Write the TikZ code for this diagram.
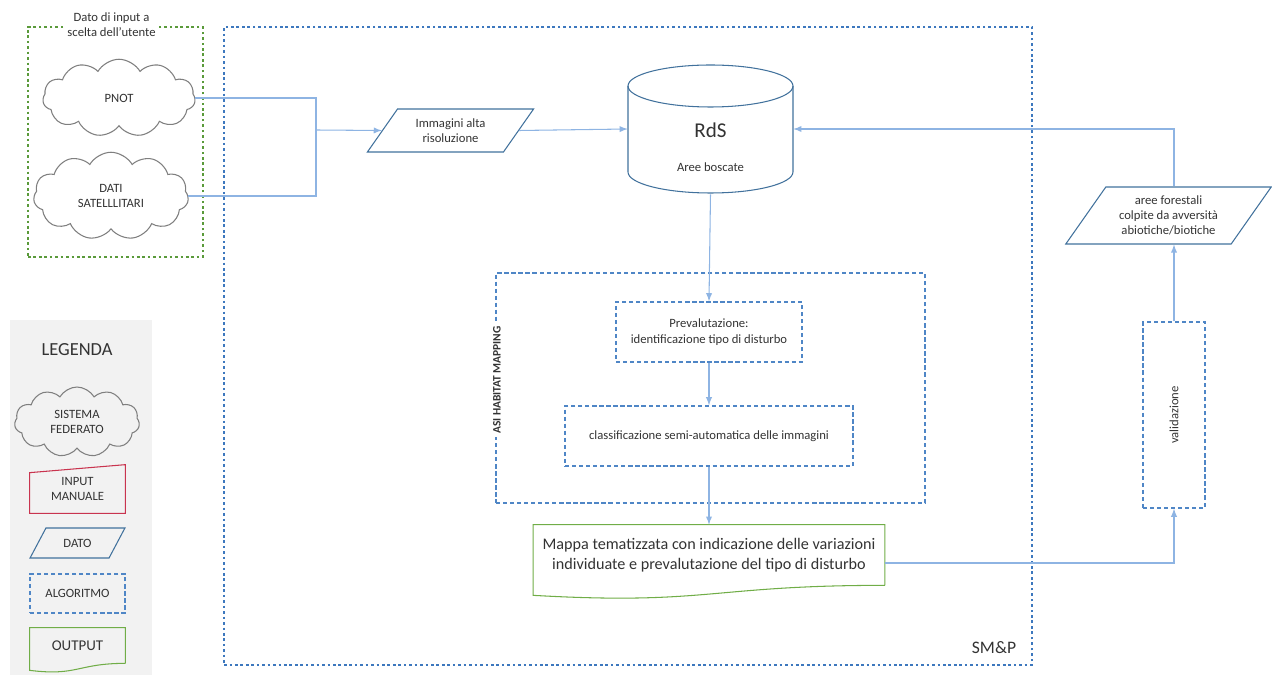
\documentclass[tikz,border=0pt]{standalone}
\usepackage{fontspec}
\setmainfont{Carlito}
\usepackage{tikz}
\usetikzlibrary{shapes,positioning}
\usetikzlibrary{arrows}

\definecolor{lineblue}{HTML}{8EB4E3}
\definecolor{edgeblue}{HTML}{41719C}
\definecolor{dashblue}{HTML}{4F86C6}
\definecolor{dotblue}{HTML}{3D78BE}
\definecolor{dotgreen}{HTML}{5A9A3A}
\definecolor{outgreen}{HTML}{70AD47}
\definecolor{inred}{HTML}{C9344F}
\definecolor{cloudgrey}{HTML}{7F7F7F}
\definecolor{leggrey}{HTML}{F2F2F2}
\definecolor{txt}{HTML}{333333}

\begin{document}
\begin{tikzpicture}[x=0.02cm, y=-0.02cm, text=txt, font=\fontsize{7.2}{8.7}\selectfont]
      \tikzstyle{cnode} = [draw=cloudgrey, semithick, cloud, cloud puffs=11, cloud puff arc=120, cloud ignores aspect, align=center]
      \tikzstyle{dnode} = [draw=edgeblue, semithick, trapezium, trapezium stretches=true, trapezium left angle=53, trapezium right angle=127, inner sep=1pt, align=center]
      \tikzstyle{anode} = [draw=dashblue, line width=0.8pt, dash pattern=on 2.4pt off 1.6pt, align=center]
      \tikzstyle{onode} = [align=center]
      \tikzstyle{oline} = [draw=outgreen, semithick]
      \tikzstyle{dotbox} = [line width=1.5pt, dash pattern=on 1.5pt off 1.6pt]
      \tikzstyle{conn} = [draw=lineblue, semithick, -latex]

      \useasboundingbox (0,0) rectangle (1272,675);

      % grouping frames
      \node[dotbox, draw=dotblue, minimum width=16.16cm, minimum height=12.76cm] (smp) at (628,346) {};
      \node[font=\fontsize{10}{12}\selectfont] (smplbl) at (994,648) {SM\&P};
      \node[dotbox, draw=dotgreen, minimum width=3.5cm, minimum height=4.6cm] (inbox) at (115.5,142) {};
      \node[fill=white, align=center, inner sep=2pt] (inlbl) at (111.5,25) {Dato di input a\\ scelta dell'utente};

      % user input data
      \node[cnode, minimum width=3.05cm, minimum height=1.55cm] (pnot) at (119,98) {PNOT};
      \node[cnode, minimum width=3.1cm, minimum height=1.75cm] (dati) at (111,196) {DATI\\ SATELLLITARI};
      \coordinate (join) at (316,130);

      \node[dnode, minimum width=3.34cm, minimum height=0.86cm] (img) at (450.5,130.5) {Immagini alta\\ risoluzione};

      % repository
      \node[minimum width=3.3cm, minimum height=2.6cm] (rds) at (710.5,129) {};
      \draw[draw=edgeblue, semithick] (628,86) -- (628,172) arc[start angle=180, end angle=360, x radius=1.65cm, y radius=0.42cm] -- (793,86);
      \draw[draw=edgeblue, semithick] (710.5,86) ellipse [x radius=1.65cm, y radius=0.42cm];
      \node[font=\fontsize{12}{14}\selectfont] (rdslbl) at (710.5,130) {RdS};
      \node (rdssub) at (710.5,167) {Aree boscate};

      % processing chain
      \node[anode, minimum width=8.58cm, minimum height=4.6cm] (asi) at (710.5,388) {};
      \node[fill=white, rotate=90, font=\fontsize{6.5}{8}\bfseries, inner sep=2pt] (asilbl) at (497,380) {ASI HABITAT MAPPING};
      \node[anode, minimum width=3.72cm, minimum height=1.2cm] (prev) at (709,332) {Prevalutazione:\\ identificazione tipo di disturbo};
      \node[anode, minimum width=5.76cm, minimum height=1.2cm] (clas) at (709,436) {classificazione semi-automatica delle immagini};

      \node[onode, minimum width=7.02cm, minimum height=1.2cm, font=\fontsize{9.2}{11.2}\selectfont] (mappa) at (709,555) {Mappa tematizzata con indicazione delle variazioni\\ individuate e prevalutazione del tipo di disturbo};
      \draw[oline] (mappa.south east) -- (mappa.north east) -- (mappa.north west) -- ([yshift=-0.2cm]mappa.south west)
            .. controls +(175,10) and +(-175,0) .. (mappa.south east);

      \node[anode, minimum width=1.24cm, minimum height=3.72cm] (valid) at (1174,415) {};
      \node[rotate=90] (validlbl) at (valid.center) {validazione};
      \node[dnode, minimum width=4.14cm, minimum height=1.14cm] (forest) at (1168.5,215.5) {aree forestali\\ colpite da avversit\`a\\ abiotiche/biotiche};

      % connections
      \draw[conn, -] (pnot.east) -| (join);
      \draw[conn, -] (dati.east) -| (join);
      \draw[conn] (join) -- (img.west);
      \draw[conn] (img.east) -- (rds.west);
      \draw[conn] (rds.south) -- (prev.north);
      \draw[conn] (prev) -- (clas);
      \draw[conn] (clas) -- (mappa.north);
      \draw[conn] ([yshift=-0.16cm]mappa.east) -| (valid.south);
      \draw[conn] (valid.north) -- (valid.north |- forest.south);
      \draw[conn] (valid.north |- forest.north) |- (rds.east);

      % legend
      \node[fill=leggrey, minimum width=2.84cm, minimum height=7.1cm] (legbox) at (81,497.5) {};
      \node[font=\fontsize{10.5}{12}\selectfont] (leglbl) at (77,350) {LEGENDA};
      \node[cnode, minimum width=2.5cm, minimum height=1.4cm] (legcloud) at (77,422) {SISTEMA\\ FEDERATO};
      \node[align=center, minimum width=1.9cm, minimum height=0.96cm] (legman) at (77.5,489) {INPUT\\ MANUALE};
      \draw[draw=inred, semithick] (legman.south west) -- ([yshift=-0.16cm]legman.north west) -- (legman.north east) -- (legman.south east) -- cycle;
      \node[dnode, trapezium left angle=56, trapezium right angle=124, minimum width=1.9cm, minimum height=0.6cm] (legdato) at (77.5,543) {DATO};
      \node[anode, minimum width=1.9cm, minimum height=0.78cm] (legalg) at (77.5,593.5) {ALGORITMO};
      \node[onode, minimum width=1.9cm, minimum height=0.7cm, font=\fontsize{8.5}{10}\selectfont] (legout) at (77.5,645.5) {OUTPUT};
      \draw[oline] (legout.south east) -- (legout.north east) -- (legout.north west) -- ([yshift=-0.14cm]legout.south west)
            .. controls +(48,6) and +(-48,0) .. (legout.south east);
\end{tikzpicture}
\end{document}
